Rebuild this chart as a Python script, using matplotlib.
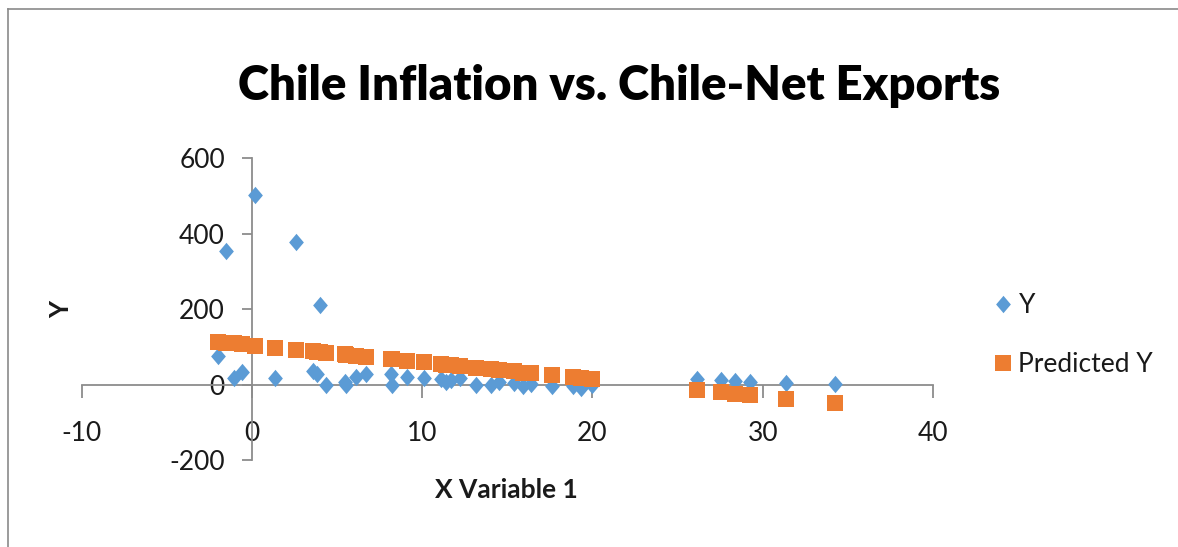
import numpy as np
import matplotlib
matplotlib.use("Agg")
import matplotlib.pyplot as plt
from matplotlib.lines import Line2D
from matplotlib.path import Path

# values
x_var = [-2.0, -1.5, -1.05, -0.6, 0.2, 1.33, 2.56, 3.6, 3.8, 3.97, 4.36, 5.44, 5.54,
         6.12, 6.67, 8.18, 8.2, 9.1, 10.1, 11.1, 11.4, 11.7, 12.2, 13.16, 14.04, 14.5,
         15.4, 15.9, 16.4, 17.65, 18.83, 19.3, 20.0, 26.16, 27.53, 28.37, 29.25, 31.38, 34.23]
y_obs = [75, 354, 18, 33, 504, 18, 377, 37, 28, 211, 0, 7, -2,
         20, 27, 29, -2, 20, 18, 16, 7, 11, 18, 0, -1, 7,
         5, -3, 2, -4, -3, -8, 0, 16, 11, 10, 8, 3, 1]
y_pred = [113, 111, 109, 107, 103, 98, 92, 88, 87, 86, 84, 80, 79,
          76, 74, 67, 67, 63, 59, 54, 53, 51, 49, 45, 41, 39,
          35, 32, 30, 25, 19, 17, 14, -14, -20, -24, -28, -37, -50]
x_ticks = [-10, 0, 10, 20, 30, 40]
y_ticks = [-200, 0, 200, 400, 600]
series_names = ["Y", "Predicted Y"]

title = "Chile Inflation vs. Chile-Net Exports"
blue = "#5B9BD5"
orange = "#ED7D31"
axis_grey = "#8C8C8C"
txt = "#1a1a1a"

plt.rcParams["font.family"] = ["Lato", "DejaVu Sans"]
plt.rcParams["axes.unicode_minus"] = False

W, H = 1178, 547
fig = plt.figure(figsize=(W / 100, H / 100), dpi=100)
fig.patch.set_facecolor("white")

# plot area in pixels: x -10..40 -> 81.7..933, y 600..-200 -> 158.3..460
ax = fig.add_axes([81.7 / W, 1 - 460 / H, (933 - 81.7) / W, (460 - 158.3) / H])
ax.set_facecolor("none")

diamond = Path([(0, 1), (0.85, 0), (0, -1), (-0.85, 0), (0, 1)],
               [Path.MOVETO, Path.LINETO, Path.LINETO, Path.LINETO, Path.CLOSEPOLY])
square = Path([(-0.9, -1), (0.9, -1), (0.9, 1), (-0.9, 1), (-0.9, -1)],
              [Path.MOVETO, Path.LINETO, Path.LINETO, Path.LINETO, Path.CLOSEPOLY])

ax.plot(x_var, y_obs, linestyle="none", marker=diamond, markersize=12.5,
        color=blue, markeredgewidth=0, zorder=3, label=series_names[0])
ax.plot(x_var, y_pred, linestyle="none", marker=square, markersize=12,
        color=orange, markeredgewidth=0, zorder=4, label=series_names[1])

ax.set_xlim(-10, 40)
ax.set_ylim(-200, 600)
ax.set_xticks(x_ticks)
ax.set_yticks(y_ticks)

for s in ["top", "right"]:
    ax.spines[s].set_visible(False)
ax.spines["left"].set_position(("data", 0))
ax.spines["bottom"].set_position(("data", 0))
for s in ["left", "bottom"]:
    ax.spines[s].set_color(axis_grey)
    ax.spines[s].set_linewidth(1.3)

ax.tick_params(axis="x", direction="out", length=9.5, width=1.3, color=axis_grey,
               pad=17, labelsize=19, labelcolor=txt)
ax.tick_params(axis="y", direction="out", length=7.5, width=1.3, color=axis_grey,
               pad=12, labelsize=19, labelcolor=txt)

# titles
fig.text(619 / W, 1 - 100 / H, title, ha="center", va="baseline",
         fontsize=34, fontweight="heavy", color="black")
fig.text(506 / W, 1 - 490 / H, "X Variable 1", ha="center", va="center",
         fontsize=19, fontweight="bold", color=txt)
fig.text(61 / W, 1 - 310 / H, "Y", ha="center", va="center", rotation=90,
         fontsize=19, fontweight="bold", color=txt)

# legend
ax.legend(loc="center left", bbox_to_anchor=(996 / W, 1 - 335 / H),
          bbox_transform=fig.transFigure, frameon=False, fontsize=19,
          handlelength=0.5, handletextpad=0.35, labelspacing=1.3,
          borderpad=0, borderaxespad=0, labelcolor=txt)

# chart border (cropped Excel chart frame)
fig.add_artist(Line2D([8 / W, 8 / W], [0, 1 - 9 / H], color="#8a8a8a", lw=1.2))
fig.add_artist(Line2D([8 / W, 1], [1 - 9 / H, 1 - 9 / H], color="#8a8a8a", lw=1.2))

fig.savefig("out.png", dpi=100, facecolor="white")
